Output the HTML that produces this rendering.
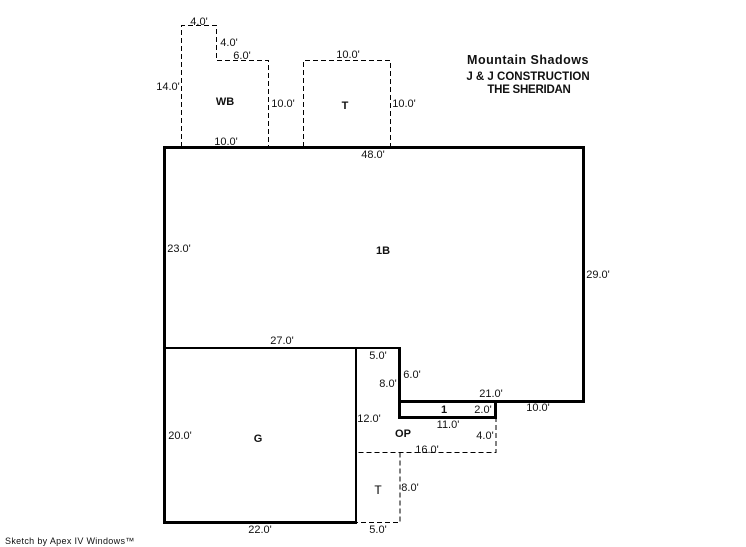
<!DOCTYPE html>
<html>
<head>
<meta charset="utf-8">
<style>
html,body{margin:0;padding:0;background:#fff;}
svg{display:block;}
text{font-family:"Liberation Sans",Arial,sans-serif;font-size:11px;fill:#111;}
.b{font-weight:bold;}
</style>
</head>
<body>
<svg width="746" height="547" viewBox="0 0 746 547" xmlns="http://www.w3.org/2000/svg">
<rect width="746" height="547" fill="#fff"/>
<g fill="none" stroke="#000" stroke-width="1" stroke-dasharray="5 3" shape-rendering="crispEdges">
<path d="M181.5 147V25.5H216.5V60.5H268.5V147"/>
<path d="M303.5 147V60.5H390.5V147"/>
<path d="M496 417V452.5H356"/>
<path d="M400 452.5V522.5H356"/>
</g>
<g fill="#000" shape-rendering="crispEdges">
<rect x="163" y="146" width="421" height="3"/>
<rect x="163" y="146" width="3" height="378"/>
<rect x="582" y="146" width="3" height="256"/>
<rect x="398" y="400" width="187" height="3"/>
<rect x="398" y="347" width="3" height="72"/>
<rect x="398" y="416" width="99" height="3"/>
<rect x="494" y="400" width="3" height="19"/>
<rect x="163" y="347" width="237" height="2"/>
<rect x="355" y="347" width="2" height="177"/>
<rect x="163" y="521" width="194" height="3"/>
</g>
<text x="199" y="25" text-anchor="middle">4.0'</text>
<text x="229" y="46" text-anchor="middle">4.0'</text>
<text x="242" y="59" text-anchor="middle">6.0'</text>
<text x="168" y="90" text-anchor="middle">14.0'</text>
<text x="225" y="105" text-anchor="middle" class="b">WB</text>
<text x="283" y="107" text-anchor="middle">10.0'</text>
<text x="348" y="58" text-anchor="middle">10.0'</text>
<text x="345" y="109" text-anchor="middle" class="b">T</text>
<text x="404" y="107" text-anchor="middle">10.0'</text>
<text x="226" y="145" text-anchor="middle">10.0'</text>
<text x="373" y="158" text-anchor="middle">48.0'</text>
<text x="179" y="252" text-anchor="middle">23.0'</text>
<text x="383" y="254" text-anchor="middle" class="b">1B</text>
<text x="598" y="278" text-anchor="middle">29.0'</text>
<text x="282" y="344" text-anchor="middle">27.0'</text>
<text x="378" y="359" text-anchor="middle">5.0'</text>
<text x="412" y="378" text-anchor="middle">6.0'</text>
<text x="388" y="387" text-anchor="middle">8.0'</text>
<text x="491" y="397" text-anchor="middle">21.0'</text>
<text x="538" y="411" text-anchor="middle">10.0'</text>
<text x="444" y="413" text-anchor="middle" class="b">1</text>
<text x="483" y="413" text-anchor="middle">2.0'</text>
<text x="369" y="422" text-anchor="middle">12.0'</text>
<text x="448" y="428" text-anchor="middle">11.0'</text>
<text x="485" y="439" text-anchor="middle">4.0'</text>
<text x="403" y="437" text-anchor="middle" class="b">OP</text>
<text x="180" y="439" text-anchor="middle">20.0'</text>
<text x="258" y="442" text-anchor="middle" class="b">G</text>
<text x="427" y="453" text-anchor="middle">16.0'</text>
<text x="410" y="491" text-anchor="middle">8.0'</text>
<text x="378" y="494" text-anchor="middle" style="font-size:12px;fill:#000">T</text>
<text x="260" y="533" text-anchor="middle">22.0'</text>
<text x="378" y="533" text-anchor="middle">5.0'</text>
<text x="5" y="544" style="font-size:9px;letter-spacing:.33px">Sketch by Apex IV Windows™</text>
<text x="528" y="64" text-anchor="middle" class="b" style="font-size:12.5px;letter-spacing:.5px">Mountain Shadows</text>
<text x="528" y="80" text-anchor="middle" class="b" style="font-size:11.5px">J &amp; J CONSTRUCTION</text>
<text x="529" y="93" text-anchor="middle" class="b" style="font-size:11.5px;letter-spacing:-.25px">THE SHERIDAN</text>
</svg>
</body>
</html>
